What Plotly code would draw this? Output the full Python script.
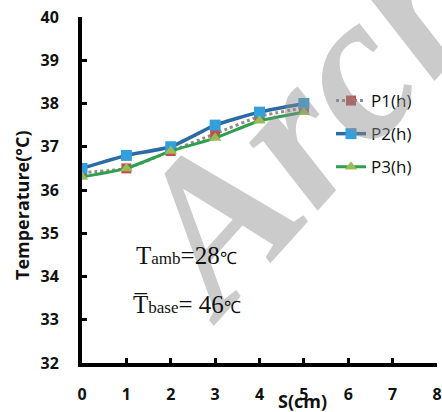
import plotly.graph_objects as go

s_cm = [0, 1, 2, 3, 4, 5]
p1 = [36.4, 36.5, 36.9, 37.3, 37.7, 37.9]
p2 = [36.5, 36.8, 37.0, 37.5, 37.8, 38.0]
p3 = [36.3, 36.5, 36.9, 37.2, 37.6, 37.8]
names = ["P1(h)", "P2(h)", "P3(h)"]
x_ticks = [0, 1, 2, 3, 4, 5, 6, 7, 8]
y_ticks = [32, 33, 34, 35, 36, 37, 38, 39, 40]

fig = go.Figure()
fig.add_trace(go.Scatter(
    x=s_cm, y=p1, name=names[0], mode="lines+markers",
    line=dict(color="#958a8a", width=3, dash="dot", shape="spline", smoothing=0.5),
    marker=dict(symbol="square", size=10, color="#c0504d"), legendgroup="a"))
fig.add_trace(go.Scatter(
    x=s_cm, y=p2, name=names[1], mode="lines+markers",
    line=dict(color="#2b6aa3", width=3.5, shape="spline", smoothing=0.5),
    marker=dict(symbol="square", size=11, color="#33a0dd"), legendgroup="b"))
fig.add_trace(go.Scatter(
    x=s_cm, y=p3, name=names[2], mode="lines+markers",
    line=dict(color="#2f9e4f", width=3, shape="spline", smoothing=0.5),
    marker=dict(symbol="triangle-up", size=11, color="#9bbb59"), legendgroup="c"))

tickfont = dict(family="Open Sans", size=16, color="#111", weight="bold")
axis_common = dict(showgrid=False, zeroline=False, automargin=False,
                   showline=True, linecolor="black", linewidth=4,
                   ticks="inside", ticklen=5, tickwidth=3, tickcolor="black",
                   tickfont=tickfont)

L, R, T, B, W, H = 82, 5, 17, 49, 442, 412
pw, ph = W - L - R, H - T - B

def px(x):
    return (x - L) / pw

def py(y):
    return (H - B - y) / ph

fig.update_layout(
    width=W, height=H,
    margin=dict(l=L, r=R, t=T, b=B),
    paper_bgcolor="white", plot_bgcolor="white",
    showlegend=True,
    legend=dict(x=px(331), y=py(83), xanchor="left", yanchor="top",
                font=dict(family="Open Sans", size=17, color="#111"),
                bgcolor="rgba(255,255,255,0.85)", tracegroupgap=8),
    xaxis=dict(range=[0, 8], tickvals=x_ticks, ticklabelstandoff=14, **axis_common),
    yaxis=dict(range=[32, 40], tickvals=y_ticks, ticklabelstandoff=16, **axis_common),
    annotations=[
        dict(text="Archive", x=px(391), y=py(23), xanchor="center", yanchor="middle",
             xref="paper", yref="paper", showarrow=False,
             font=dict(family="Liberation Serif", size=210, color="rgba(140,140,140,0.45)",
                       weight="bold", style="italic"), textangle=-48),
        dict(text="S(cm)", x=px(302), y=py(401), xanchor="center", yanchor="middle",
             xref="paper", yref="paper", showarrow=False,
             font=dict(family="Open Sans", size=18, color="#111", weight="bold")),
        dict(text="Temperature(\u00b0C)", x=px(22), y=py(205), xanchor="center", yanchor="middle",
             xref="paper", yref="paper", showarrow=False, textangle=-90,
             font=dict(family="Open Sans", size=18, color="#111", weight="bold")),
        dict(text="T<span style='font-size:17px'>amb</span>=28<span style='font-size:17px'>\u2103</span>",
             x=px(134), y=py(255), xanchor="left", yanchor="middle",
             xref="paper", yref="paper", showarrow=False,
             font=dict(family="Liberation Serif", size=25, color="#111")),
        dict(text="T\u0305<span style='font-size:17px'>base</span>= 46<span style='font-size:17px'>\u2103</span>",
             x=px(131), y=py(304), xanchor="left", yanchor="middle",
             xref="paper", yref="paper", showarrow=False,
             font=dict(family="Liberation Serif", size=25, color="#111")),
    ],
)

fig.write_html("out.html", config={"displayModeBar": False},
               post_script="document.body.style.margin='0';")
